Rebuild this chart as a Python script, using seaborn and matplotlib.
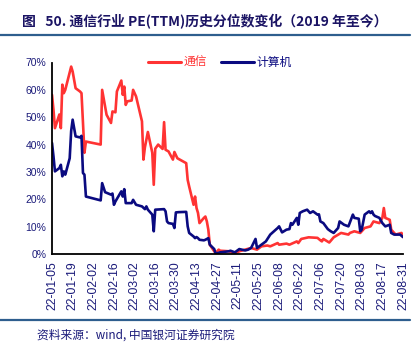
import matplotlib
matplotlib.use("Agg")
import matplotlib.pyplot as plt
import matplotlib.dates as mdates
import pandas as pd
import seaborn as sns

# 通信行业 PE(TTM) 历史分位数（2022 年）
tx_dates = [
    "01-05", "01-06", "01-07", "01-10", "01-11", "01-12", "01-13", "01-14",
    "01-18", "01-19", "01-21", "01-24", "01-25", "01-26", "01-27", "01-28",
    "02-07", "02-08", "02-11", "02-14", "02-15", "02-17", "02-18", "02-21",
    "02-22", "02-23", "02-24", "02-25", "02-28", "03-01", "03-03", "03-07",
    "03-08", "03-09", "03-11", "03-14", "03-15", "03-16", "03-18", "03-21",
    "03-22", "03-23", "03-25", "03-28", "03-29", "03-31", "04-06", "04-07",
    "04-08", "04-11", "04-12", "04-13", "04-14", "04-15", "04-18", "04-19",
    "04-20", "04-21", "04-22", "04-25", "04-26", "04-28", "04-29", "05-05",
    "05-06", "05-09", "05-12", "05-16", "05-20", "05-24", "05-27", "05-31",
    "06-02", "06-07", "06-08", "06-13", "06-15", "06-20", "06-21", "06-23",
    "06-28", "07-04", "07-06", "07-07", "07-08", "07-12", "07-15", "07-20",
    "07-25", "07-26", "07-29", "08-02", "08-05", "08-09", "08-11", "08-15",
    "08-17", "08-18", "08-19", "08-22", "08-23", "08-26", "08-30", "08-31",
]
tx_vals = [
    58.2, 52.7, 46.0, 51.0, 46.0, 61.9, 58.8, 60.0,
    68.5, 66.7, 60.6, 59.4, 58.8, 48.0, 37.0, 41.1,
    40.0, 60.0, 50.9, 47.9, 52.1, 51.8, 59.4, 63.4,
    58.2, 61.2, 54.5, 55.8, 56.1, 60.0, 57.6, 48.5,
    34.5, 39.0, 44.6, 37.0, 25.3, 38.5, 40.0, 38.4,
    48.2, 38.1, 37.5, 34.5, 37.3, 35.0, 33.2, 27.1,
    24.7, 18.0, 21.0, 16.8, 15.0, 11.3, 13.2, 13.7,
    11.9, 8.9, 3.4, 1.0, 0.3, 1.6, 1.2, 1.0,
    0.8, 0.1, 1.0, 1.6, 2.2, 1.6, 2.8, 3.1,
    2.8, 4.0, 3.4, 3.8, 3.4, 4.6, 4.0, 5.5,
    6.1, 5.9, 5.0, 4.6, 5.5, 4.2, 6.1, 7.7,
    7.1, 7.7, 8.3, 7.7, 9.5, 10.1, 11.9, 11.3,
    13.2, 16.8, 13.2, 12.5, 8.9, 7.1, 7.7, 6.2,
]

# 计算机行业 PE(TTM) 历史分位数（2022 年）
jsj_dates = [
    "01-05", "01-06", "01-07", "01-10", "01-11", "01-12", "01-13", "01-14",
    "01-17", "01-18", "01-19", "01-21", "01-24", "01-25", "01-26", "01-27",
    "01-28", "02-07", "02-08", "02-10", "02-14", "02-15", "02-16", "02-17",
    "02-21", "02-22", "02-23", "02-24", "02-28", "03-01", "03-03", "03-07",
    "03-09", "03-10", "03-11", "03-14", "03-15", "03-16", "03-22", "03-23",
    "03-24", "03-25", "03-28", "03-29", "03-30", "04-01", "04-06", "04-07",
    "04-08", "04-11", "04-12", "04-13", "04-14", "04-15", "04-18", "04-19",
    "04-20", "04-21", "04-22", "04-25", "04-26", "04-29", "05-05", "05-06",
    "05-09", "05-12", "05-16", "05-18", "05-20", "05-23", "05-24", "05-27",
    "05-30", "06-02", "06-07", "06-08", "06-10", "06-13", "06-15", "06-16",
    "06-17", "06-20", "06-21", "06-22", "06-24", "06-27", "06-29", "07-01",
    "07-04", "07-05", "07-06", "07-08", "07-11", "07-13", "07-15", "07-18",
    "07-19", "07-22", "07-25", "07-28", "07-29", "08-01", "08-02", "08-03",
    "08-05", "08-08", "08-09", "08-10", "08-11", "08-12", "08-15", "08-17",
    "08-19", "08-22", "08-23", "08-25", "08-29", "08-31",
]
jsj_vals = [
    40.6, 35.7, 30.2, 31.4, 32.6, 28.4, 30.2, 29.0,
    35.0, 45.0, 49.1, 43.0, 42.6, 43.2, 29.6, 29.0,
    21.0, 19.6, 25.9, 22.6, 21.7, 22.1, 18.0, 19.2,
    22.9, 21.0, 23.7, 18.6, 18.6, 19.8, 18.0, 17.4,
    16.4, 17.4, 16.2, 14.4, 8.3, 16.2, 16.4, 15.6,
    11.9, 11.3, 11.0, 9.5, 15.2, 15.3, 15.4, 10.1,
    7.7, 6.4, 5.8, 6.2, 5.8, 5.2, 5.0, 5.2,
    5.5, 5.8, 3.4, 1.8, 0.1, 0.6, 1.0, 1.2,
    0.6, 1.8, 1.3, 1.6, 2.2, 5.5, 2.2, 3.4,
    4.6, 7.1, 9.5, 10.1, 7.9, 8.9, 9.1, 11.3,
    10.7, 13.2, 10.7, 15.0, 15.6, 16.2, 15.0, 15.6,
    14.4, 14.5, 11.9, 11.3, 9.1, 8.3, 7.7, 9.5,
    11.9, 10.7, 10.1, 14.4, 13.2, 12.9, 8.3, 8.9,
    14.4, 15.6, 15.0, 15.6, 14.4, 13.9, 13.2, 11.3,
    10.1, 10.7, 7.7, 7.1, 7.1, 6.2,
]

series_names = ["通信", "计算机"]
series_colors = ["#FF3333", "#0A0A80"]

title_text = "图   50. 通信行业 PE(TTM)历史分位数变化（2019 年至今）"
source_text = "资料来源：wind, 中国银河证券研究院"

df = pd.concat([
    pd.DataFrame({"date": pd.to_datetime(["2022-" + d for d in tx_dates]),
                  "value": [v / 100 for v in tx_vals], "industry": series_names[0]}),
    pd.DataFrame({"date": pd.to_datetime(["2022-" + d for d in jsj_dates]),
                  "value": [v / 100 for v in jsj_vals], "industry": series_names[1]}),
], ignore_index=True)

sns.set_theme(style="white")
plt.rcParams["font.family"] = ["Liberation Sans", "Noto Sans CJK SC", "DejaVu Sans"]

navy = "#1B1B7A"
W, H = 419, 344
fig = plt.figure(figsize=(W / 100, H / 100), dpi=100)
ax = fig.add_axes([52 / W, 1 - 254 / H, 351 / W, (254 - 62.5) / H])

sns.lineplot(data=df, x="date", y="value", hue="industry",
             hue_order=series_names, palette=series_colors,
             linewidth=1.9, ax=ax, legend=False)

start, end = pd.Timestamp("2022-01-05"), pd.Timestamp("2022-08-31")
ax.set_xlim(start, end)
ax.set_ylim(0, 0.70)
ax.set_xticks(pd.date_range(start, end, freq="14D"))
ax.xaxis.set_major_formatter(mdates.DateFormatter("%y-%m-%d"))
ax.set_yticks([i / 10 for i in range(8)])
ax.yaxis.set_major_formatter(matplotlib.ticker.PercentFormatter(1.0, decimals=0))
ax.set_xlabel("")
ax.set_ylabel("")

for s in ["top", "right"]:
    ax.spines[s].set_visible(False)
for s in ["left", "bottom"]:
    ax.spines[s].set_color("black")
    ax.spines[s].set_linewidth(1.3)

ax.tick_params(axis="x", direction="in", length=3, width=1, colors="black",
               labelcolor=navy, labelsize=8.8, labelrotation=90, pad=5)
ax.tick_params(axis="y", direction="in", length=3, width=1, colors="black",
               labelcolor=navy, labelsize=7.5, pad=4)
for lab in ax.get_xticklabels() + ax.get_yticklabels():
    lab.set_fontfamily(["Liberation Sans", "DejaVu Sans"])

handles = [plt.Line2D([], [], color=c, lw=2.2) for c in series_colors]
ax.legend(handles, series_names, loc="center", bbox_to_anchor=(0.478, 1.0),
          ncol=2, frameon=False, handlelength=2.8,
          handletextpad=0.2, columnspacing=1.2, labelcolor=series_colors,
          prop={"family": ["Noto Sans CJK SC"], "size": 8.5})

fig.text(22 / W, 1 - 22 / H, title_text, ha="left", va="center",
         fontsize=10, fontweight="bold", color="#1B1464",
         family=["Noto Sans CJK SC", "DejaVu Sans"])
rule_color = "#2E5E8E"
fig.add_artist(plt.Line2D([0, 410 / W], [1 - 34.5 / H] * 2, color=rule_color,
                          lw=1.6, transform=fig.transFigure))
fig.add_artist(plt.Line2D([0, 410 / W], [1 - 320 / H] * 2, color=rule_color,
                          lw=1.6, transform=fig.transFigure))
fig.text(37 / W, 1 - 335 / H, source_text, ha="left", va="center",
         fontsize=8.5, style="italic", color=navy,
         family=["Noto Sans CJK SC", "DejaVu Sans"])

fig.savefig("out.png", dpi=100)
